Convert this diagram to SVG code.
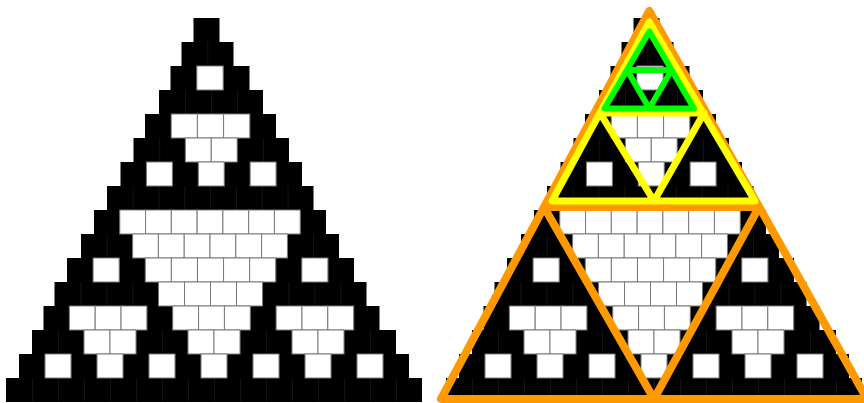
<svg xmlns="http://www.w3.org/2000/svg" xmlns:xlink="http://www.w3.org/1999/xlink" width="864" height="403" viewBox="0 0 864 403">
<style>
.row{fill:#000}
.sep{stroke:#1c1c1c;stroke-width:24;fill:none}
.w{fill:#fff;stroke:#7a7a7a;stroke-width:1;height:24px}
.ov{fill:none;stroke-linejoin:round;stroke-linecap:round}
.o{stroke:#ff9900;stroke-width:8}
.y{stroke:#ffff00;stroke-width:7}
.g{stroke:#00ff00;stroke-width:6}
</style>
<defs>
<g id="tri">
<g id="rows">
<rect class="row" x="193.5" y="18" width="26" height="24"/>
<rect class="row" x="181.5" y="42" width="52" height="24"/>
<rect class="row" x="170.5" y="66" width="79" height="24"/>
<rect class="row" x="159" y="90" width="104" height="24"/>
<rect class="row" x="145" y="114" width="131" height="24"/>
<rect class="row" x="133.5" y="138" width="155.5" height="24"/>
<rect class="row" x="120.5" y="162" width="181.5" height="24"/>
<rect class="row" x="107" y="186" width="206.5" height="24"/>
<rect class="row" x="94" y="210" width="232" height="24"/>
<rect class="row" x="81" y="234" width="258" height="24"/>
<rect class="row" x="67" y="258" width="287" height="24"/>
<rect class="row" x="54.5" y="282" width="312" height="24"/>
<rect class="row" x="43.5" y="306" width="336" height="24"/>
<rect class="row" x="32" y="330" width="364" height="24"/>
<rect class="row" x="19" y="354" width="390" height="24"/>
<rect class="row" x="6" y="378" width="416" height="24"/>
</g>
<g id="seps">
<line class="sep" x1="207.5" y1="54" x2="233.5" y2="54" stroke-dasharray="0.7 25.3"/>
<line class="sep" x1="196.83" y1="78" x2="249.5" y2="78" stroke-dasharray="0.7 25.63"/>
<line class="sep" x1="185" y1="102" x2="263" y2="102" stroke-dasharray="0.7 25.3"/>
<line class="sep" x1="171.2" y1="126" x2="276" y2="126" stroke-dasharray="0.7 25.5"/>
<line class="sep" x1="159.42" y1="150" x2="289" y2="150" stroke-dasharray="0.7 25.22"/>
<line class="sep" x1="146.43" y1="174" x2="302" y2="174" stroke-dasharray="0.7 25.23"/>
<line class="sep" x1="132.81" y1="198" x2="313.5" y2="198" stroke-dasharray="0.7 25.11"/>
<line class="sep" x1="119.78" y1="222" x2="326" y2="222" stroke-dasharray="0.7 25.08"/>
<line class="sep" x1="106.8" y1="246" x2="339" y2="246" stroke-dasharray="0.7 25.1"/>
<line class="sep" x1="93.09" y1="270" x2="354" y2="270" stroke-dasharray="0.7 25.39"/>
<line class="sep" x1="80.5" y1="294" x2="366.5" y2="294" stroke-dasharray="0.7 25.3"/>
<line class="sep" x1="69.35" y1="318" x2="379.5" y2="318" stroke-dasharray="0.7 25.15"/>
<line class="sep" x1="58" y1="342" x2="396" y2="342" stroke-dasharray="0.7 25.3"/>
<line class="sep" x1="45" y1="366" x2="409" y2="366" stroke-dasharray="0.7 25.3"/>
<line class="sep" x1="32" y1="390" x2="422" y2="390" stroke-dasharray="0.7 25.3"/>
</g>
<g id="white">
<rect class="w" x="196.83" y="66" width="26.33"/>
<rect class="w" x="171.2" y="114" width="26.2"/>
<rect class="w" x="197.4" y="114" width="26.2"/>
<rect class="w" x="223.6" y="114" width="26.2"/>
<rect class="w" x="185.33" y="138" width="25.92"/>
<rect class="w" x="211.25" y="138" width="25.92"/>
<rect class="w" x="146.43" y="162" width="25.93"/>
<rect class="w" x="198.29" y="162" width="25.93"/>
<rect class="w" x="250.14" y="162" width="25.93"/>
<rect class="w" x="119.78" y="210" width="25.78"/>
<rect class="w" x="145.56" y="210" width="25.78"/>
<rect class="w" x="171.33" y="210" width="25.78"/>
<rect class="w" x="197.11" y="210" width="25.78"/>
<rect class="w" x="222.89" y="210" width="25.78"/>
<rect class="w" x="248.67" y="210" width="25.78"/>
<rect class="w" x="274.44" y="210" width="25.78"/>
<rect class="w" x="132.6" y="234" width="25.8"/>
<rect class="w" x="158.4" y="234" width="25.8"/>
<rect class="w" x="184.2" y="234" width="25.8"/>
<rect class="w" x="210" y="234" width="25.8"/>
<rect class="w" x="235.8" y="234" width="25.8"/>
<rect class="w" x="261.6" y="234" width="25.8"/>
<rect class="w" x="93.09" y="258" width="26.09"/>
<rect class="w" x="145.27" y="258" width="26.09"/>
<rect class="w" x="171.36" y="258" width="26.09"/>
<rect class="w" x="197.45" y="258" width="26.09"/>
<rect class="w" x="223.55" y="258" width="26.09"/>
<rect class="w" x="249.64" y="258" width="26.09"/>
<rect class="w" x="301.82" y="258" width="26.09"/>
<rect class="w" x="158.5" y="282" width="26"/>
<rect class="w" x="184.5" y="282" width="26"/>
<rect class="w" x="210.5" y="282" width="26"/>
<rect class="w" x="236.5" y="282" width="26"/>
<rect class="w" x="69.35" y="306" width="25.85"/>
<rect class="w" x="95.19" y="306" width="25.85"/>
<rect class="w" x="121.04" y="306" width="25.85"/>
<rect class="w" x="172.73" y="306" width="25.85"/>
<rect class="w" x="198.58" y="306" width="25.85"/>
<rect class="w" x="224.42" y="306" width="25.85"/>
<rect class="w" x="276.12" y="306" width="25.85"/>
<rect class="w" x="301.96" y="306" width="25.85"/>
<rect class="w" x="327.81" y="306" width="25.85"/>
<rect class="w" x="84" y="330" width="26"/>
<rect class="w" x="110" y="330" width="26"/>
<rect class="w" x="188" y="330" width="26"/>
<rect class="w" x="214" y="330" width="26"/>
<rect class="w" x="292" y="330" width="26"/>
<rect class="w" x="318" y="330" width="26"/>
<rect class="w" x="45" y="354" width="26"/>
<rect class="w" x="97" y="354" width="26"/>
<rect class="w" x="149" y="354" width="26"/>
<rect class="w" x="201" y="354" width="26"/>
<rect class="w" x="253" y="354" width="26"/>
<rect class="w" x="305" y="354" width="26"/>
<rect class="w" x="357" y="354" width="26"/>
</g>
</g>
</defs>
<g id="left-triangle">
<use href="#tri" xlink:href="#tri"/>
</g>
<g id="right-triangle">
<use href="#tri" xlink:href="#tri" x="440"/>
</g>
<g id="outlines">
<path id="orange" class="ov o" d="M649.3,11 L441,399 L867,399 Z M544,207 L759,207 L654,399 Z"/>
<path id="yellow" class="ov y" d="M649.3,22 L552,201 L755,201 Z M600,113 L704,113 L654,201 Z"/>
<path id="green" class="ov g" d="M649.3,31.5 L604.5,108.5 L694,108.5 Z M627,70 L671.6,70 L649.3,108.5 Z"/>
</g>
</svg>
